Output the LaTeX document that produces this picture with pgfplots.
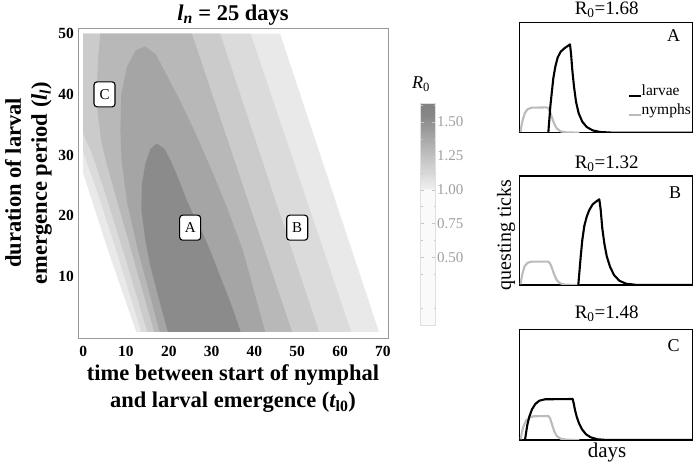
\documentclass[border=0pt]{standalone}
\usepackage{pgfplots}
\pgfplotsset{compat=1.18}
\usepackage{fontspec}
\setmainfont{Liberation Serif}

\definecolor{lvA}{HTML}{E9E9E9}
\definecolor{lvB}{HTML}{DBDBDB}
\definecolor{lvC}{HTML}{CBCBCB}
\definecolor{lvD}{HTML}{B8B8B8}
\definecolor{lvE}{HTML}{A5A5A5}
\definecolor{lvF}{HTML}{8B8B8B}
\definecolor{nymph}{HTML}{BBBBBB}

\pgfplotsset{
  panel/.style={
    scale only axis, anchor=south west, width=173.4pt,
    xmin=0, xmax=173.4, ymin=0, ticks=none,
    axis line style={line width=1.2pt},
    clip=true,
  },
  larva/.style={black, line width=2.1pt, line join=round},
  nymphs/.style={nymph, line width=2.1pt, line join=round},
}
\tikzset{ptbox/.style={draw=black, fill=white, rounded corners=3pt, line width=1.1pt,
    minimum width=21pt, minimum height=25pt, inner sep=0pt,
    font=\fontsize{15}{15}\selectfont}}

\begin{document}
\begin{tikzpicture}[x=1pt,y=1pt]

% main contour panel: superlevel regions of R0 drawn from outside in
\begin{axis}[
  at={(78pt,130pt)}, anchor=south west,
  width=310pt, height=310pt, scale only axis,
  xmin=-1.2, xmax=71.2, ymin=-0.2, ymax=50.95,
  xtick={0,10,...,70}, ytick={10,20,...,50},
  major tick length=0pt,
  axis line style={draw=gray!80, line width=0.8pt},
  tick label style={font=\fontsize{15.5}{15.5}\selectfont\bfseries, inner sep=0pt},
  /pgf/number format/assume math mode=true,
  xticklabel style={yshift=-8pt},
  yticklabel style={xshift=-4pt},
  xlabel={time between start of nymphal\\and larval emergence ({\itshape t}\textsubscript{l0})},
  xlabel style={font=\fontsize{22.5}{27.3}\selectfont\bfseries, align=center, inner sep=0pt,
    at={(axis description cs:0.5,-0.085)}, anchor=north},
  ylabel={duration of larval\\emergence period ({\itshape l}\textsubscript{\itshape l})},
  ylabel style={font=\fontsize{22.5}{26}\selectfont\bfseries, align=center, inner sep=0pt,
    at={(axis description cs:-0.084,0.5)}, anchor=south},
  colorbar,
  colormap={r0}{rgb255(0cm)=(250,250,250); rgb255(1cm)=(250,250,250);
    rgb255(1.01cm)=(238,238,238); rgb255(1.55cm)=(135,135,135); rgb255(1.64cm)=(130,130,130)},
  point meta min=0, point meta max=1.64,
  colorbar style={
    at={(parent axis.south east)}, anchor=south west, xshift=24pt, yshift=13pt,
    scale only axis, width=15pt, height=222pt,
    ytick={0.5,0.75,1,1.25,1.5},
    minor ytick={0.125,0.375,0.625,0.875,1.125,1.375,1.625},
    yticklabel={\pgfmathprintnumber[fixed,fixed zerofill,precision=2]{\tick}},
    yticklabel style={font=\fontsize{15}{15}\selectfont, text=gray!75, inner sep=1.5pt},
    axis line style={draw=gray!25},
    major tick length=3.5pt, minor tick length=2pt,
    tick style={draw=gray!45},
    /pgf/number format/assume math mode=true,
  },
]
\addplot[fill=lvA, draw=none] coordinates {
  (12.4,0.8) (69.1,0.8) (46,50) (0,50) (0,27) (5.8,14.3)
} --cycle;
\addplot[fill=lvB, draw=none] coordinates {
  (13.6,0.8) (62.6,0.8) (39.1,50) (0,50) (0,30.5) (3.5,23.5) (7.7,14.3)
} --cycle;
\addplot[fill=lvC, draw=none] coordinates {
  (15.0,0.8) (55.1,0.8) (32,50) (0,50) (0,33.5) (0.7,32.4) (2.2,30) (5,24) (9.3,14.3)
} --cycle;
\addplot[fill=lvD, draw=none] coordinates {
  (16.6,0.8) (48.8,0.8) (25.4,50) (4,50) (3.5,46) (3.2,41) (3.4,37) (4.2,32.4)
  (5.3,29) (7.7,23) (11.2,14.3)
} --cycle;
\addplot[fill=lvE, draw=none] coordinates {
  (17.9,0.8) (42.5,0.8) (37.3,14.3) (33.5,21.5) (30,27.5) (26.3,33.5) (22.6,39)
  (19.2,43.6) (17,46.6) (14.5,47.9) (12.3,47.3) (10.2,44.5) (8.9,40) (8.7,34)
  (9,29) (10.3,22) (12.8,14.3)
} --cycle;
\addplot[fill=lvF, draw=none] coordinates {
  (19.8,0.8) (36.8,0.8) (34.5,5.5) (32,10) (29.8,14) (28,17) (26.2,19.5) (24.2,22.5)
  (22.3,26) (20.5,29) (19,31) (17.2,31.9) (15.7,31) (14.5,28.5) (13.7,25) (13.6,21)
  (14.5,16) (15.6,12) (17.4,7)
} --cycle;
\node[ptbox] at (axis cs:25,18) {A};
\node[ptbox] at (axis cs:50,18) {B};
\node[ptbox] at (axis cs:5,40) {C};
\end{axis}

\node[anchor=base, inner sep=0pt, font=\fontsize{22.5}{27}\selectfont\bfseries]
  at (233pt,447.3pt) {{\itshape l}\textsubscript{\itshape n} = 25 days};
\node[font=\fontsize{18}{18}\selectfont, anchor=base] at (421pt,379pt) {{\itshape R}\textsubscript{0}};

% panel A
\begin{axis}[panel, at={(519.3pt,335.3pt)}, height=110pt, ymax=110]
\addplot[nymphs] coordinates {
  (1.4,0.7) (2.0,6) (3.4,12.7) (5.4,19.3) (8,23.3) (12.4,25) (27.4,25.3) (29.4,24)
  (30.7,21) (32.4,16) (34.7,9.3) (37.4,4.3) (41.4,1.3) (47.4,0.3) (60,0)
};
\addplot[larva] coordinates {
  (29,0) (30,12.7) (31,26) (32.4,39.3) (34,54.3) (36,66) (38.4,75.3) (41.4,81)
  (45,84.3) (48.4,86.7) (50.7,88.3) (51.7,79.3) (53,62.7) (54.7,46) (56.7,31)
  (59.4,19.3) (63,11) (67.4,5.7) (73.4,2.3) (80.7,0.7) (94,0) (173,0)
};
\end{axis}

% panel B
\begin{axis}[panel, at={(519.3pt,183pt)}, height=109pt, ymax=109]
\addplot[nymphs] coordinates {
  (1.4,0.7) (2,5.7) (3.4,12.3) (5.4,19) (8.4,22.3) (12.4,23.3) (29,23.3) (30.7,21.7)
  (32.4,17.7) (34.7,11) (37.4,5) (40.7,1.7) (45.7,0.3) (60,0)
};
\addplot[larva] coordinates {
  (59,0) (60,11.7) (61.4,28.3) (63,45) (65,59) (67.4,68.3) (70,75) (73.4,80.7)
  (76.7,83.3) (80,85.7) (81.4,75) (83,56.7) (85,41.7) (87.4,29) (90.7,18.3)
  (94.7,10) (100,4.3) (106.7,1.3) (118,0) (173,0)
};
\end{axis}

% panel C
\begin{axis}[panel, at={(519.3pt,28pt)}, height=110.7pt, ymax=110.7]
\addplot[nymphs] coordinates {
  (1.4,0.7) (2.4,6.7) (4,13.3) (6.7,19.3) (10.7,22.7) (14,23.7) (29,24) (30.7,21.7)
  (32.4,16.7) (34.7,9.3) (37.4,4) (41.4,1.3) (47.4,0.3) (60,0)
};
\addplot[larva] coordinates {
  (5.7,0) (6.7,6.7) (8,15) (10,23.3) (12.7,30.7) (16,36) (20,39.3) (25.7,40.7)
  (53.4,41) (54.4,36.7) (55.7,30) (57.4,23.3) (59.7,16.7) (62.7,10.7) (66.7,5.7)
  (71.4,2.7) (78,0.7) (87.4,0) (173,0)
};
\end{axis}

% panel titles, letters, legend
\begin{scope}[font=\fontsize{19}{19}\selectfont]
\node[anchor=base] at (606.7pt,453pt) {R\textsubscript{0}=1.68};
\node[anchor=base] at (606.7pt,299.7pt) {R\textsubscript{0}=1.32};
\node[anchor=base] at (606.7pt,149pt) {R\textsubscript{0}=1.48};
\end{scope}
\begin{scope}[font=\fontsize{18}{18}\selectfont]
\node[anchor=base] at (673.5pt,426pt) {A};
\node[anchor=base] at (675pt,269.7pt) {B};
\node[anchor=base] at (673.5pt,116.3pt) {C};
\end{scope}
\draw[black, line width=1.8pt] (629.3pt,372.3pt) -- (640.5pt,372.3pt);
\draw[nymph, line width=1.8pt] (629.3pt,352.6pt) -- (640.5pt,352.6pt);
\node[anchor=base west, inner sep=0pt, font=\fontsize{15.5}{15.5}\selectfont] at (641.5pt,372.3pt) {larvae};
\node[anchor=base west, inner sep=0pt, font=\fontsize{15.5}{15.5}\selectfont] at (641.5pt,353.7pt) {nymphs};

\node[rotate=90, font=\fontsize{20}{20}\selectfont] at (506pt,233pt) {questing ticks};
\node[anchor=base, inner sep=0pt, font=\fontsize{21}{21}\selectfont] at (607pt,10pt) {days};

\pgfresetboundingbox
\path[use as bounding box] (0pt,0pt) rectangle (697pt,468pt);
\end{tikzpicture}
\end{document}
